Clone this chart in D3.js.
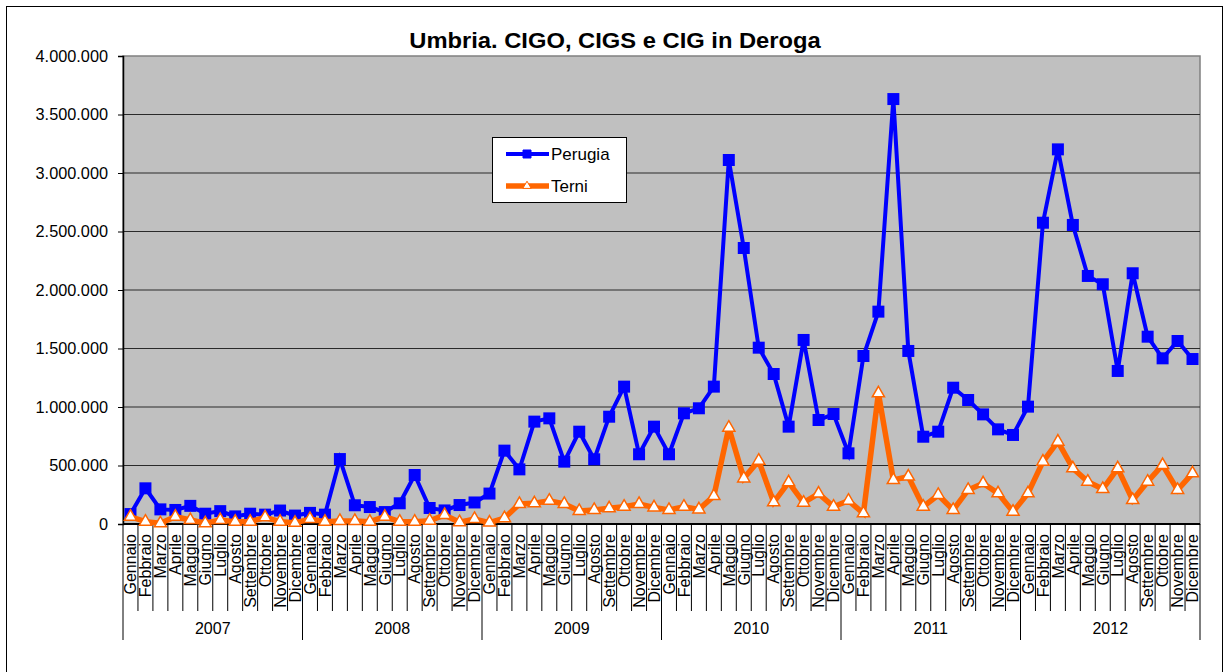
<!DOCTYPE html>
<html>
<head>
<meta charset="utf-8">
<script src="https://cdn.jsdelivr.net/npm/d3@7"></script>
<style>
  html, body { margin: 0; padding: 0; background: #fff; }
  svg { display: block; font-family: "Liberation Sans", Arial, sans-serif; }
</style>
</head>
<body>
<svg id="chart" width="1228" height="672"></svg>
<script>
// Cassa integrazione guadagni (ore autorizzate) per provincia, 2007-2012
const years = ["2007", "2008", "2009", "2010", "2011", "2012"];
const months = ["Gennaio", "Febbraio", "Marzo", "Aprile", "Maggio", "Giugno",
                "Luglio", "Agosto", "Settembre", "Ottobre", "Novembre", "Dicembre"];

const perugia = [
  85000, 305000, 125000, 120000, 155000, 88000, 110000, 65000, 88000, 80000, 115000, 72000,
  95000, 80000, 555000, 160000, 145000, 102000, 177000, 419000, 137000, 116000, 162000, 184000,
  260000, 627000, 467000, 875000, 903000, 533000, 789000, 553000, 917000, 1174000, 596000, 832000,
  596000, 946000, 989000, 1174000, 3111000, 2359000, 1507000, 1282000, 832000, 1573000, 889000, 940000,
  604000, 1436000, 1815000, 3632000, 1479000, 746000, 789000, 1165000, 1060000, 937000, 809000, 761000,
  1003000, 2575000, 3202000, 2556000, 2120000, 2049000, 1308000, 2143000, 1601000, 1416000, 1564000, 1410000
];

const terni = [
  62000, 20000, 6000, 62000, 34000, 6000, 34000, 20000, 20000, 57000, 20000, 10000,
  43000, 20000, 26000, 26000, 20000, 62000, 20000, 20000, 28000, 77000, 15000, 43000,
  12000, 50000, 171000, 177000, 199000, 171000, 111000, 120000, 134000, 148000, 171000, 142000,
  120000, 148000, 125000, 239000, 823000, 390000, 541000, 185000, 356000, 182000, 260000, 148000,
  199000, 91000, 1117000, 376000, 405000, 148000, 248000, 120000, 291000, 348000, 262000, 105000,
  262000, 533000, 704000, 476000, 362000, 299000, 476000, 205000, 362000, 504000, 291000, 433000
];

const yTicks = [0, 500000, 1000000, 1500000, 2000000, 2500000, 3000000, 3500000, 4000000];

// one entry per month: index, month name, year
const periods = [];
years.forEach((y, yi) => months.forEach((m, mi) => periods.push({ i: yi * 12 + mi, month: m, year: y })));

const svg = d3.select("#chart");
const plot = { left: 123, right: 1200, top: 56, bottom: 524 };

const x = d3.scaleBand().domain(periods.map(d => d.i)).range([plot.left, plot.right]).padding(0);
const y = d3.scaleLinear().domain([0, 4000000]).range([plot.bottom, plot.top]);
const cx = i => x(i) + x.bandwidth() / 2;

const itLocale = d3.formatLocale({ decimal: ",", thousands: ".", grouping: [3], currency: ["", " €"] });
const fmt = itLocale.format(",d");

// outer chart frame
svg.append("rect")
  .attr("x", 6.5).attr("y", 6.5).attr("width", 1216).attr("height", 700)
  .attr("fill", "#fff").attr("stroke", "#000").attr("stroke-width", 1);

// plot background
svg.append("rect")
  .attr("x", plot.left).attr("y", plot.top)
  .attr("width", plot.right - plot.left).attr("height", plot.bottom - plot.top)
  .attr("fill", "#c0c0c0").attr("stroke", "#808080").attr("stroke-width", 1.5);

// horizontal gridlines
svg.append("g").selectAll("line")
  .data(yTicks.filter(v => v > 0 && v < 4000000))
  .join("line")
  .attr("x1", plot.left).attr("x2", plot.right)
  .attr("y1", d => y(d)).attr("y2", d => y(d))
  .attr("stroke", "#2a2a2a").attr("stroke-width", 1);

// value axis
const yAxis = svg.append("g")
  .attr("transform", `translate(${plot.left},0)`)
  .call(d3.axisLeft(y).tickValues(yTicks).tickFormat(fmt).tickSize(5).tickPadding(10));
yAxis.select(".domain").attr("stroke", "#000").attr("stroke-width", 1.5);
yAxis.selectAll(".tick line").attr("stroke", "#000");
yAxis.selectAll(".tick text")
  .attr("font-size", 16.3).attr("fill", "#000")
  .attr("font-family", "'Liberation Sans', Arial, sans-serif");

// category axis line
svg.append("line")
  .attr("x1", plot.left).attr("x2", plot.right)
  .attr("y1", plot.bottom).attr("y2", plot.bottom)
  .attr("stroke", "#000").attr("stroke-width", 2);

// month and year separators
const bounds = d3.range(periods.length + 1);
svg.append("g").selectAll("line")
  .data(bounds)
  .join("line")
  .attr("x1", d => d < periods.length ? x(d) : plot.right)
  .attr("x2", d => d < periods.length ? x(d) : plot.right)
  .attr("y1", plot.bottom)
  .attr("y2", d => d % 12 === 0 ? 640 : 611)
  .attr("stroke", "#000").attr("stroke-width", 1);

// rotated month labels
svg.append("g").selectAll("text")
  .data(periods)
  .join("text")
  .attr("transform", d => `translate(${cx(d.i)},534) rotate(-90)`)
  .attr("text-anchor", "end")
  .attr("dy", "0.36em")
  .attr("font-size", 16)
  .attr("fill", "#000")
  .text(d => d.month);

// year labels
svg.append("g").selectAll("text")
  .data(years)
  .join("text")
  .attr("x", (d, k) => (x(k * 12) + (k === years.length - 1 ? plot.right : x(k * 12 + 12))) / 2)
  .attr("y", 634)
  .attr("text-anchor", "middle")
  .attr("font-size", 16)
  .attr("fill", "#000")
  .text(d => d);

// series
const line = d3.line().x((d, i) => cx(i)).y(d => y(d));

svg.append("path")
  .datum(perugia)
  .attr("d", line)
  .attr("fill", "none").attr("stroke", "#0000ff").attr("stroke-width", 4)
  .attr("stroke-linejoin", "miter");

svg.append("g").selectAll("path")
  .data(perugia)
  .join("path")
  .attr("transform", (d, i) => `translate(${cx(i)},${y(d)})`)
  .attr("d", d3.symbol(d3.symbolSquare, 144))
  .attr("fill", "#0000ff");

svg.append("path")
  .datum(terni)
  .attr("d", line)
  .attr("fill", "none").attr("stroke", "#ff6600").attr("stroke-width", 5.5)
  .attr("stroke-linejoin", "miter");

const tri = d3.symbol(d3.symbolTriangle, 64);
svg.append("g").selectAll("path")
  .data(terni)
  .join("path")
  .attr("transform", (d, i) => `translate(${cx(i)},${y(d)})`)
  .attr("d", tri)
  .attr("fill", "#fff").attr("stroke", "#ff6600").attr("stroke-width", 1.5);

// title
svg.append("text")
  .attr("transform", "translate(615,48) scale(1.08,1)")
  .attr("text-anchor", "middle")
  .attr("font-size", 22).attr("font-weight", "bold").attr("fill", "#000")
  .text("Umbria. CIGO, CIGS e CIG in Deroga");

// legend
const legend = svg.append("g");
legend.append("rect")
  .attr("x", 492.5).attr("y", 137.5).attr("width", 134).attr("height", 65)
  .attr("fill", "#fff").attr("stroke", "#000").attr("stroke-width", 1);

const items = [
  { name: "Perugia", color: "#0000ff", width: 4, y: 154, sym: d3.symbol(d3.symbolSquare, 64), fill: "#0000ff" },
  { name: "Terni", color: "#ff6600", width: 5.5, y: 186, sym: d3.symbol(d3.symbolTriangle, 30), fill: "#fff" }
];
items.forEach(it => {
  legend.append("line")
    .attr("x1", 506).attr("x2", 549).attr("y1", it.y).attr("y2", it.y)
    .attr("stroke", it.color).attr("stroke-width", it.width);
  legend.append("path")
    .attr("transform", `translate(527,${it.y})`)
    .attr("d", it.sym)
    .attr("fill", it.fill).attr("stroke", it.color).attr("stroke-width", 1);
  legend.append("text")
    .attr("x", 551).attr("y", it.y).attr("dy", "0.36em")
    .attr("font-size", 17).attr("fill", "#000")
    .text(it.name);
});
</script>
</body>
</html>
